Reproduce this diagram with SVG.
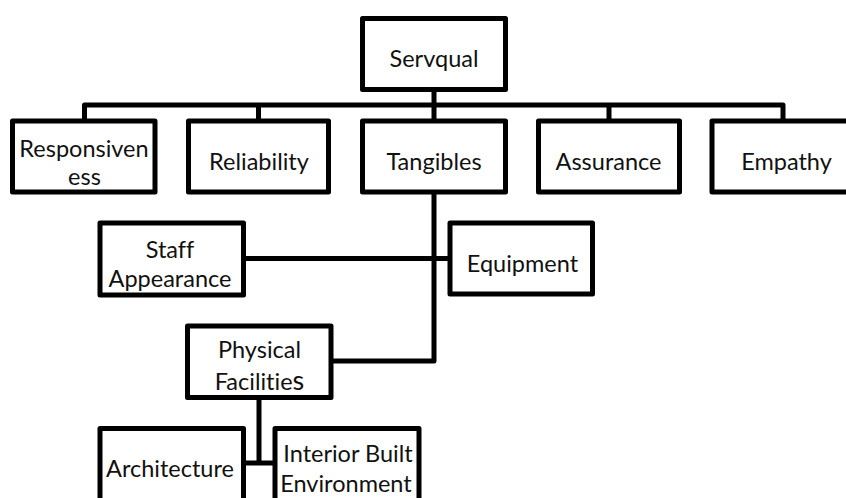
<svg xmlns="http://www.w3.org/2000/svg" width="846" height="498" viewBox="0 0 846 498">
  <style>
    .box { fill: #ffffff; stroke: #000000; stroke-width: 5; stroke-linejoin: round; }
    .wire { fill: none; stroke: #000000; stroke-width: 5; stroke-linejoin: round; }
    .lbl { font-family: Lato, "Open Sans", "Liberation Sans", sans-serif; font-size: 23.5px; fill: #111111; text-anchor: middle; font-variant-ligatures: none; font-feature-settings: "liga" 0, "clig" 0; }
  </style>
  <rect width="846" height="498" fill="#ffffff"/>

  <!-- connectors -->
  <g id="connectors">
    <path class="wire" d="M434 89 V105"/>
    <path class="wire" d="M84.5 121 V105 H783 V121"/>
    <path class="wire" d="M258.5 105 V121"/>
    <path class="wire" d="M434 105 V121"/>
    <path class="wire" d="M609 105 V121"/>
    <path class="wire" d="M434 192 V361 H331"/>
    <path class="wire" d="M243.5 258.5 H450"/>
    <path class="wire" d="M259 397.5 V463"/>
    <path class="wire" d="M243.5 463 H275"/>
  </g>

  <g id="servqual">
    <rect class="box" x="362.5" y="18.5" width="143" height="71"/>
    <text class="lbl" x="434" y="66.5">Servqual</text>
  </g>

  <g id="responsiveness">
    <rect class="box" x="12.5" y="121" width="142.5" height="71"/>
    <text class="lbl" x="84" y="156.5">Responsiven</text>
    <text class="lbl" x="84.5" y="185">ess</text>
  </g>

  <g id="reliability">
    <rect class="box" x="188.5" y="121" width="140" height="71"/>
    <text class="lbl" x="259" y="170">Reliability</text>
  </g>

  <g id="tangibles">
    <rect class="box" x="362.5" y="121" width="143" height="71"/>
    <text class="lbl" x="434" y="170">Tangibles</text>
  </g>

  <g id="assurance">
    <rect class="box" x="538.5" y="121" width="141" height="71"/>
    <text class="lbl" x="608.5" y="170">Assurance</text>
  </g>

  <g id="empathy">
    <rect class="box" x="712" y="121" width="145" height="71"/>
    <text class="lbl" x="786.5" y="170">Empathy</text>
  </g>

  <g id="staff-appearance">
    <rect class="box" x="100" y="223" width="143.5" height="72"/>
    <text class="lbl" x="170" y="258.3">Staff</text>
    <text class="lbl" x="170" y="286.7">Appearance</text>
  </g>

  <g id="equipment">
    <rect class="box" x="450" y="223" width="142.5" height="71"/>
    <text class="lbl" x="522.5" y="271.7">Equipment</text>
  </g>

  <g id="physical-facilities">
    <rect class="box" x="187.5" y="326" width="143.5" height="71.5"/>
    <text class="lbl" x="259.5" y="358.3">Physical</text>
    <text class="lbl" x="259.5" y="390">Facilitie<tspan font-size="27">s</tspan></text>
  </g>

  <g id="architecture">
    <rect class="box" x="100" y="428.5" width="143.5" height="100"/>
    <text class="lbl" x="170" y="476.7">Architecture</text>
  </g>

  <g id="interior-built-environment">
    <rect class="box" x="275" y="428.5" width="144" height="100"/>
    <text class="lbl" x="348" y="461.7">Interior Built</text>
    <text class="lbl" x="346" y="491.7">Environment</text>
  </g>
</svg>
